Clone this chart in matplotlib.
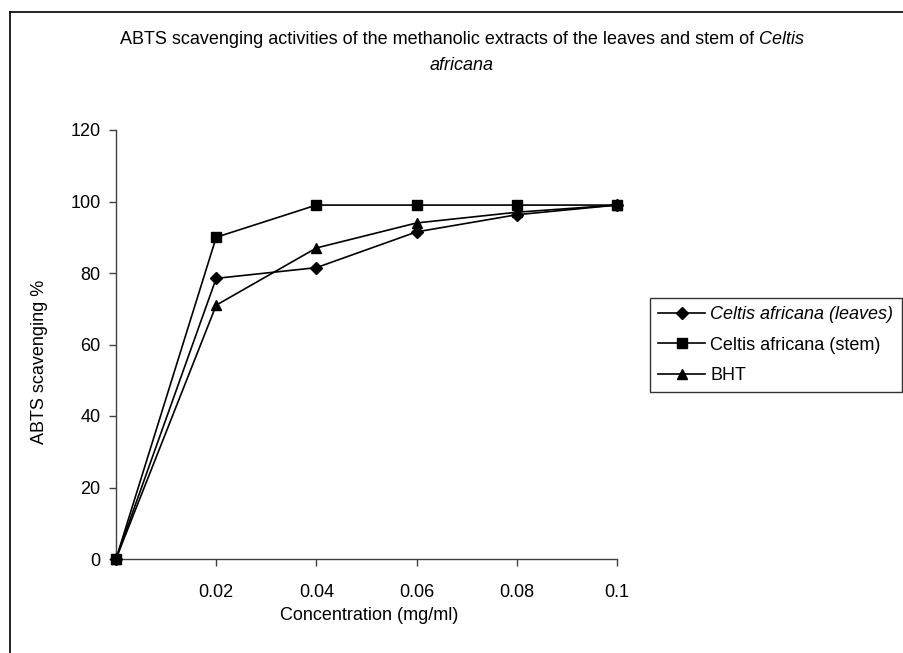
import matplotlib
matplotlib.use("Agg")
import matplotlib.pyplot as plt
from matplotlib.lines import Line2D

plt.rcParams['font.family'] = ['Liberation Sans', 'DejaVu Sans']

conc = [0, 0.02, 0.04, 0.06, 0.08, 0.1]
leaves = [0, 78.5, 81.5, 91.5, 96.3, 99]
stem = [0, 90, 99, 99, 99, 99]
bht = [0, 71, 87, 94, 97, 99]
xticks = [0.02, 0.04, 0.06, 0.08, 0.1]
xticklabels = ["0.02", "0.04", "0.06", "0.08", "0.1"]
yticks = [0, 20, 40, 60, 80, 100, 120]

FS = 13
W, H = 904, 653
fig = plt.figure(figsize=(W / 100, H / 100), dpi=100)
ax = fig.add_axes([116 / W, 1 - 559 / H, (617 - 116) / W, (559 - 130) / H])

ax.plot(conc, leaves, color='black', lw=1.2, marker='D', ms=6, label='Celtis africana (leaves)', clip_on=False, zorder=3)
ax.plot(conc, stem, color='black', lw=1.2, marker='s', ms=7, label='Celtis africana (stem)', clip_on=False, zorder=3)
ax.plot(conc, bht, color='black', lw=1.2, marker='^', ms=7.5, label='BHT', clip_on=False, zorder=3)

ax.set_xlim(0, 0.1)
ax.set_ylim(0, 120)
ax.set_xticks(xticks)
ax.set_xticklabels(xticklabels)
ax.set_yticks(yticks)
ax.tick_params(axis='both', direction='out', length=5, width=1, color='#404040', labelsize=FS)
ax.tick_params(axis='x', pad=13)
ax.tick_params(axis='y', pad=6)
for s in ['top', 'right']:
    ax.spines[s].set_visible(False)
for s in ['left', 'bottom']:
    ax.spines[s].set_color('#404040')
    ax.spines[s].set_linewidth(1)

# Title line 1: regular part + italic "Celtis", centred together
fig.canvas.draw()
r = fig.canvas.get_renderer()
t1 = fig.text(0, 1 - 40 / H, "ABTS scavenging activities of the methanolic extracts of the leaves and stem of ",
              ha='left', va='center', fontsize=FS)
t2 = fig.text(0, 1 - 40 / H, "Celtis", ha='left', va='center', fontsize=FS, style='italic')
w1 = t1.get_window_extent(r).width
w2 = t2.get_window_extent(r).width
x0 = 462 - (w1 + w2) / 2
t1.set_x(x0 / W)
t2.set_x((x0 + w1) / W)
fig.text(462 / W, 1 - 65 / H, "africana", ha='center', va='center', fontsize=FS, style='italic')
fig.text(40 / W, 1 - 362 / H, "ABTS scavenging %", rotation=90, ha='center', va='center', fontsize=FS)
fig.text(369 / W, 1 - 615 / H, "Concentration (mg/ml)", ha='center', va='center', fontsize=FS)

leg = ax.legend(loc='center left', bbox_to_anchor=(650 / W, 1 - 345 / H), bbox_transform=fig.transFigure,
                frameon=True, fancybox=False, edgecolor='black', fontsize=FS,
                handlelength=2.6, handletextpad=0.3, borderpad=0.45, labelspacing=0.75, borderaxespad=0)
leg.get_frame().set_linewidth(1)
leg.get_texts()[0].set_style('italic')

fig.add_artist(Line2D([10 / W, 10 / W], [0, 1 - 12 / H], color='black', lw=1.2, transform=fig.transFigure))
fig.add_artist(Line2D([10 / W, 1], [1 - 12 / H, 1 - 12 / H], color='black', lw=1.2, transform=fig.transFigure))

fig.savefig("out.png", dpi=100)
